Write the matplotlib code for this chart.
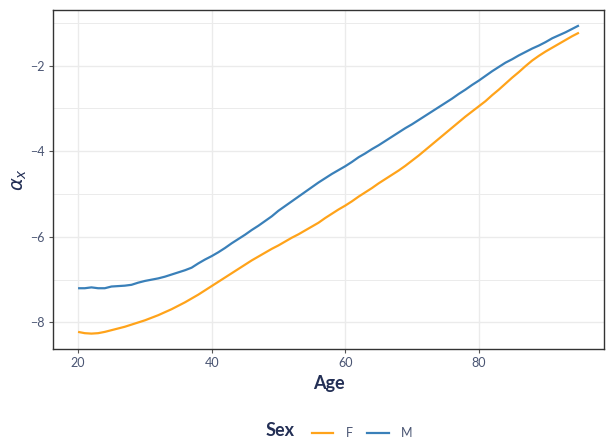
import matplotlib
matplotlib.use("Agg")
import matplotlib.pyplot as plt
from matplotlib.lines import Line2D
from matplotlib.ticker import MultipleLocator

# alpha_x by single year of age, 20..95
ages = list(range(20, 96))

alpha_m = [
    -7.20, -7.20, -7.18, -7.20, -7.20, -7.16, -7.15, -7.14, -7.12, -7.07,
    -7.03, -7.00, -6.97, -6.93, -6.88, -6.83, -6.78, -6.72, -6.62, -6.53,
    -6.45, -6.36, -6.26, -6.15, -6.05, -5.95, -5.84, -5.74, -5.63, -5.52,
    -5.39, -5.28, -5.17, -5.06, -4.95, -4.84, -4.73, -4.63, -4.53, -4.44,
    -4.35, -4.25, -4.14, -4.05, -3.95, -3.86, -3.76, -3.66, -3.56, -3.46,
    -3.37, -3.27, -3.17, -3.07, -2.97, -2.87, -2.77, -2.66, -2.56, -2.45,
    -2.35, -2.24, -2.13, -2.03, -1.93, -1.85, -1.76, -1.68, -1.60, -1.53,
    -1.45, -1.36, -1.29, -1.22, -1.14, -1.06,
]

alpha_f = [
    -8.22, -8.25, -8.26, -8.25, -8.22, -8.18, -8.14, -8.10, -8.05, -8.00,
    -7.95, -7.89, -7.83, -7.76, -7.69, -7.61, -7.53, -7.44, -7.35, -7.25,
    -7.15, -7.05, -6.95, -6.85, -6.75, -6.65, -6.55, -6.46, -6.37, -6.28,
    -6.20, -6.11, -6.02, -5.94, -5.85, -5.76, -5.67, -5.56, -5.46, -5.36,
    -5.27, -5.17, -5.06, -4.96, -4.86, -4.75, -4.65, -4.55, -4.45, -4.34,
    -4.22, -4.10, -3.97, -3.84, -3.71, -3.58, -3.45, -3.32, -3.19, -3.07,
    -2.95, -2.83, -2.69, -2.56, -2.42, -2.28, -2.15, -2.01, -1.88, -1.77,
    -1.67, -1.58, -1.49, -1.40, -1.31, -1.23,
]

sex_labels = ["F", "M"]
sex_colors = {"F": "#FFA31A", "M": "#3A80B9"}

navy = "#232F55"
tick_col = "#4A5573"

plt.rcParams["font.family"] = ["Lato", "DejaVu Sans"]

fig = plt.figure(figsize=(6.06, 4.45), dpi=100)
ax = fig.add_axes([0.0875, 0.2157, 0.9092, 0.7618])

ax.plot(ages, alpha_f, color=sex_colors["F"], lw=1.6, solid_capstyle="butt")
ax.plot(ages, alpha_m, color=sex_colors["M"], lw=1.6, solid_capstyle="butt")

# ggplot-style 5% expansion
xr = max(ages) - min(ages)
ax.set_xlim(min(ages) - 0.05 * xr, max(ages) + 0.05 * xr)
lo = min(min(alpha_f), min(alpha_m))
hi = max(max(alpha_f), max(alpha_m))
ax.set_ylim(lo - 0.05 * (hi - lo), hi + 0.05 * (hi - lo))

ax.xaxis.set_major_locator(MultipleLocator(20))
ax.yaxis.set_major_locator(MultipleLocator(2))
ax.yaxis.set_minor_locator(MultipleLocator(1))
ax.set_axisbelow(True)
ax.grid(which="major", color="#EBEBEB", lw=1.0)
ax.grid(which="minor", axis="y", color="#EBEBEB", lw=0.7)
ax.tick_params(which="minor", left=False)
ax.tick_params(which="major", length=3, width=0.8, color="#555555",
               labelsize=9, labelcolor=tick_col, pad=3)

for s in ax.spines.values():
    s.set_color("#333333")
    s.set_linewidth(1.0)

ax.set_xlabel("Age", fontsize=13, fontweight="bold", color=navy, labelpad=4)
ax.set_ylabel(r"$\alpha_x$", fontsize=14, color=navy, labelpad=1)

handles = [Line2D([], [], color=sex_colors[s], lw=1.6) for s in sex_labels]
leg = fig.legend(handles, sex_labels, loc="center", bbox_to_anchor=(0.56, 0.032),
                 ncol=2, frameon=False, title="Sex", handlelength=1.7,
                 columnspacing=1.2, handletextpad=1.0, fontsize=9,
                 labelcolor=tick_col)
leg.get_title().set_fontsize(13)
leg.get_title().set_fontweight("bold")
leg.get_title().set_color(navy)
# put title to the left of the entries
leg._legend_box.align = "left"
leg._legend_box.__class__ = matplotlib.offsetbox.HPacker
leg._legend_box.sep = 12

fig.savefig("out.png", dpi=100)
